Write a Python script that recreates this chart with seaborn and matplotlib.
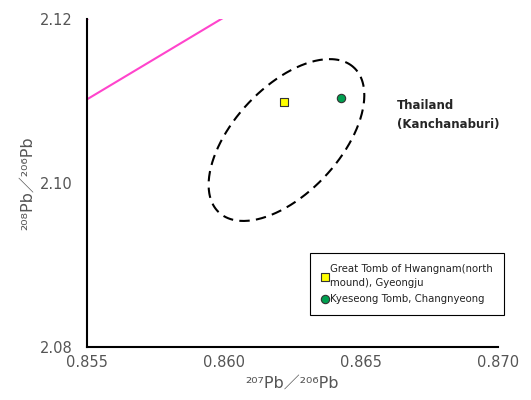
import numpy as np
import pandas as pd
import matplotlib
matplotlib.use("Agg")
import matplotlib.pyplot as plt
import seaborn as sns

sns.set_style("white")
plt.rcParams['font.family'] = ['DejaVu Sans', 'Noto Sans CJK JP']

# data
samples = ["Great Tomb of Hwangnam(north\nmound), Gyeongju", "Kyeseong Tomb, Changnyeong"]
pb207_206 = [0.8622, 0.86427]
pb208_206 = [2.10988, 2.11037]
sample_colors = ["#ffff00", "#00a050"]
sample_markers = ["s", "o"]

# reference line (pink)
line_x = [0.855, 0.860]
line_y = [2.1102, 2.1202]
line2_x = [0.855, 0.8552]
line2_y = [2.11995, 2.1205]

# Thailand (Kanchanaburi) field ellipse, in pixel-like units
ell_cx, ell_cy = 0.86228, 2.10524
ell_a, ell_b, ell_angle = 99, 53, 47
px_x, px_y = 27400, 8200

df = pd.DataFrame({"x": pb207_206, "y": pb208_206, "sample": samples})

fig, ax = plt.subplots(figsize=(5.31, 4.0), dpi=100)
fig.subplots_adjust(left=87/531, right=498/531, top=1-19/400, bottom=1-347/400)

sns.lineplot(x=line_x, y=line_y, ax=ax, color="#ff44cc", lw=1.5, legend=False)
sns.lineplot(x=line2_x, y=line2_y, ax=ax, color="#ff44cc", lw=1.5, legend=False)

t = np.linspace(0, 2*np.pi, 300)
phi = np.deg2rad(ell_angle)
ex = ell_cx + (ell_a*np.cos(t)*np.cos(phi) - ell_b*np.sin(t)*np.sin(phi)) / px_x
ey = ell_cy + (ell_a*np.cos(t)*np.sin(phi) + ell_b*np.sin(t)*np.cos(phi)) / px_y
ax.plot(ex, ey, color="black", lw=1.5, ls=(0, (5, 3)))

for i, row in df.iterrows():
    ax.scatter(row["x"], row["y"], marker=sample_markers[i], s=36,
               facecolor=sample_colors[i], edgecolor="#333333", linewidth=0.8,
               label=row["sample"], zorder=5)

ax.text(0.86631, 2.1083, "Thailand\n(Kanchanaburi)", fontsize=8.5, fontweight="bold",
        va="center", ha="left", linespacing=1.6)

ax.set_xlim(0.855, 0.870)
ax.set_ylim(2.08, 2.12)
ax.set_xticks([0.855, 0.860, 0.865, 0.870])
ax.set_yticks([2.08, 2.10, 2.12])
ax.set_xticklabels(["0.855", "0.860", "0.865", "0.870"])
ax.set_yticklabels(["2.08", "2.10", "2.12"])
ax.tick_params(axis="x", direction="in", length=4, colors="black", labelcolor="#555555",
               labelsize=10.5, pad=6, width=1)
ax.tick_params(axis="y", direction="out", length=4, colors="black", labelcolor="#555555",
               labelsize=10.5, pad=6, width=1)
for s in ["top", "right"]:
    ax.spines[s].set_visible(False)
for s in ["left", "bottom"]:
    ax.spines[s].set_color("black")
    ax.spines[s].set_linewidth(1.5)

ax.set_xlabel("²⁰⁷Pb／²⁰⁶Pb", fontsize=11.5, color="#555555", labelpad=4)
ax.set_ylabel("²⁰⁸Pb／²⁰⁶Pb", fontsize=11.5, color="#555555", labelpad=4)

leg = ax.legend(loc="upper left", bbox_to_anchor=(0.543, 0.288), fontsize=7.3,
                frameon=True, fancybox=False, edgecolor="black", handletextpad=0.1,
                handlelength=0.8, borderpad=1.1, labelspacing=0.5, framealpha=1,
                borderaxespad=0)
leg.get_frame().set_linewidth(0.8)
for txt in leg.get_texts():
    txt.set_color("#222222")
    txt.set_linespacing(1.6)

fig.savefig("out.png", dpi=100)
